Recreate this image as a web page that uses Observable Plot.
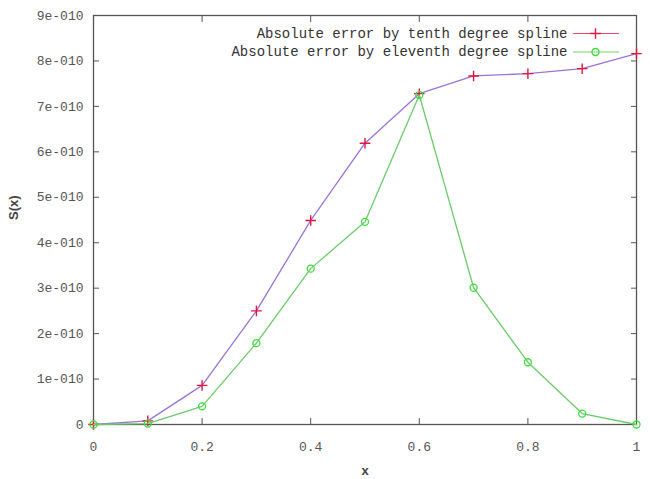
<!DOCTYPE html>
<html>
<head>
<meta charset="utf-8">
<script src="https://cdn.jsdelivr.net/npm/d3@7"></script>
<script src="https://cdn.jsdelivr.net/npm/@observablehq/plot@0.6"></script>
<style>
  html, body { margin: 0; padding: 0; background: #fff; }
  #chart svg { display: block; }
</style>
</head>
<body>
<div id="chart"></div>
<script>
const xs = [0, 0.1, 0.2, 0.3, 0.4, 0.5, 0.6, 0.7, 0.8, 0.9, 1.0];
const tenth = [0, 0.08e-10, 0.86e-10, 2.5e-10, 4.49e-10, 6.19e-10, 7.28e-10, 7.67e-10, 7.72e-10, 7.83e-10, 8.16e-10];
const eleventh = [0, 0.02e-10, 0.40e-10, 1.79e-10, 3.43e-10, 4.46e-10, 7.25e-10, 3.01e-10, 1.37e-10, 0.24e-10, 0];
const seriesNames = ["Absolute error by tenth degree spline", "Absolute error by eleventh degree spline"];
const xTicks = [0, 0.2, 0.4, 0.6, 0.8, 1];
const xTickLabels = ["0", "0.2", "0.4", "0.6", "0.8", "1"];
const yTicks = [0, 1e-10, 2e-10, 3e-10, 4e-10, 5e-10, 6e-10, 7e-10, 8e-10, 9e-10];
const yTickLabels = ["0", "1e-010", "2e-010", "3e-010", "4e-010", "5e-010", "6e-010", "7e-010", "8e-010", "9e-010"];
const xLabel = "x";
const yLabel = "S(x)";

const tenthData = xs.map((x, i) => ({x, y: tenth[i]}));
const eleventhData = xs.map((x, i) => ({x, y: eleventh[i]}));

const purple = "#9a74d6";
const red = "#e3153f";
const greenLine = "#6acb6a";
const greenDot = "#3fdc3f";
const axisColor = "#555";
const mono = "'Liberation Mono', 'DejaVu Sans Mono', monospace";

const hLine = {draw(ctx, l) { ctx.moveTo(0, 0); ctx.lineTo(0, -l); }};

const legendRow = (i, name, color, symbol, dotStroke) => [
  Plot.text([name], {frameAnchor: "top-right", dx: -69, dy: 18 + i * 18.5, textAnchor: "end", lineAnchor: "middle", fontFamily: mono, fontSize: 14, fill: "#333"}),
  Plot.vector([0], {frameAnchor: "top-right", dx: -18, dy: 18 + i * 18.5, length: 45, rotate: -90, anchor: "start", shape: hLine, stroke: color, strokeWidth: 1.2}),
  Plot.dot([0], {frameAnchor: "top-right", dx: -41, dy: 18 + i * 18.5, symbol, r: 3.5, stroke: dotStroke, strokeWidth: 1.4})
];

const chart = Plot.plot({
  width: 650,
  height: 479,
  marginLeft: 93,
  marginRight: 14,
  marginTop: 15,
  marginBottom: 55,
  style: {background: "#fff", color: axisColor},
  x: {domain: [0, 1]},
  y: {domain: [0, 9e-10]},
  marks: [
    Plot.frame({stroke: axisColor, strokeWidth: 1.3}),
    Plot.axisX({anchor: "bottom", ticks: xTicks, tickSize: -6, tickPadding: 23, tickFormat: (d, i) => xTickLabels[i], label: null, fontFamily: mono, fontSize: 13, stroke: axisColor}),
    Plot.axisX({anchor: "top", ticks: xTicks, tickSize: -6, tickFormat: () => "", label: null, stroke: axisColor}),
    Plot.axisY({anchor: "left", ticks: yTicks, tickSize: -6, tickPadding: 16, tickFormat: (d, i) => yTickLabels[i], label: null, fontFamily: mono, fontSize: 13, stroke: axisColor}),
    Plot.axisY({anchor: "right", ticks: yTicks, tickSize: -6, tickFormat: () => "", label: null, stroke: axisColor}),
    Plot.text([xLabel], {frameAnchor: "bottom", dy: 46, lineAnchor: "middle", fontFamily: "'Liberation Sans', Arial, sans-serif", fontWeight: "bold", fontSize: 13, fill: "#444"}),
    Plot.text([yLabel], {frameAnchor: "left", dx: -80, rotate: -90, lineAnchor: "middle", fontFamily: "'Liberation Sans', Arial, sans-serif", fontWeight: "bold", fontSize: 13, fill: "#444"}),
    Plot.line(tenthData, {x: "x", y: "y", stroke: purple, strokeWidth: 1.3}),
    Plot.dot(tenthData, {x: "x", y: "y", symbol: "plus", r: 3.5, stroke: red, strokeWidth: 1.4}),
    Plot.line(eleventhData, {x: "x", y: "y", stroke: greenLine, strokeWidth: 1.3}),
    Plot.dot(eleventhData, {x: "x", y: "y", symbol: "circle", r: 3.5, stroke: greenDot, strokeWidth: 1.3}),
    ...legendRow(0, seriesNames[0], "#e8485f", "plus", red),
    ...legendRow(1, seriesNames[1], "#6fd86f", "circle", greenDot)
  ]
});
document.getElementById("chart").appendChild(chart);
</script>
</body>
</html>
